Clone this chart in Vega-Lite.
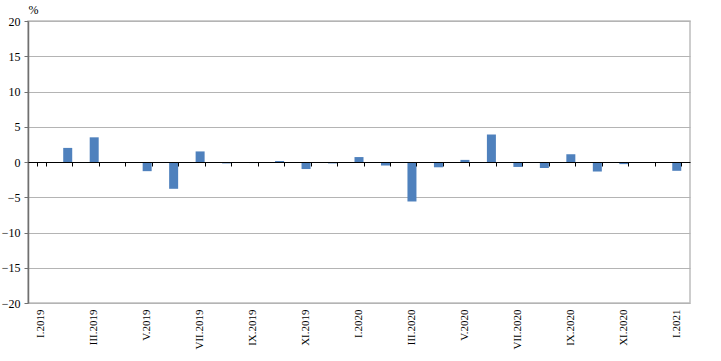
{
  "$schema": "https://vega.github.io/schema/vega-lite/v6.json",
  "autosize": {"type": "none"},
  "padding": {"left": 28, "top": 21, "right": 31, "bottom": 58},
  "width": 662,
  "height": 282,
  "background": "white",
  "config": {
    "view": {"stroke": "#bdbdbd", "strokeWidth": 1.5},
    "font": "Liberation Serif"
  },
  "data": {
    "values": [
      {"month": "I.2019", "value": 0},
      {"month": "II.2019", "value": 2.0},
      {"month": "III.2019", "value": 3.5},
      {"month": "IV.2019", "value": 0},
      {"month": "V.2019", "value": -1.3},
      {"month": "VI.2019", "value": -3.8},
      {"month": "VII.2019", "value": 1.5},
      {"month": "VIII.2019", "value": -0.2},
      {"month": "IX.2019", "value": -0.15},
      {"month": "X.2019", "value": 0.15},
      {"month": "XI.2019", "value": -1.0},
      {"month": "XII.2019", "value": -0.2},
      {"month": "I.2020", "value": 0.7},
      {"month": "II.2020", "value": -0.5},
      {"month": "III.2020", "value": -5.6},
      {"month": "IV.2020", "value": -0.75},
      {"month": "V.2020", "value": 0.3},
      {"month": "VI.2020", "value": 3.9},
      {"month": "VII.2020", "value": -0.7},
      {"month": "VIII.2020", "value": -0.85},
      {"month": "IX.2020", "value": 1.1},
      {"month": "X.2020", "value": -1.35},
      {"month": "XI.2020", "value": -0.3},
      {"month": "XII.2020", "value": 0},
      {"month": "I.2021", "value": -1.25}
    ]
  },
  "resolve": {"axis": {"x": "independent"}},
  "layer": [
    {
      "mark": {"type": "bar", "color": "#4f81bd"},
      "encoding": {
        "x": {
          "field": "month",
          "type": "nominal",
          "sort": null,
          "scale": {"paddingInner": 0.66, "paddingOuter": 0.33},
          "axis": {
            "title": null,
            "orient": "bottom",
            "values": ["I.2019", "III.2019", "V.2019", "VII.2019", "IX.2019", "XI.2019", "I.2020", "III.2020", "V.2020", "VII.2020", "IX.2020", "XI.2020", "I.2021"],
            "labelAngle": -90,
            "labelAlign": "right",
            "labelBaseline": "middle",
            "labelFont": "Liberation Serif",
            "labelFontSize": 11,
            "labelColor": "black",
            "labelPadding": 6,
            "ticks": false,
            "domain": false,
            "grid": false
          }
        },
        "y": {
          "field": "value",
          "type": "quantitative",
          "scale": {"domain": [-20, 20], "nice": false},
          "axis": {
            "title": "%",
            "titleAngle": 0,
            "titleX": 0,
            "titleY": -12,
            "titleAlign": "left",
            "titleBaseline": "middle",
            "titleFont": "Liberation Serif",
            "titleFontSize": 12,
            "titleFontWeight": "normal",
            "titleColor": "black",
            "values": [-20, -15, -10, -5, 0, 5, 10, 15, 20],
            "labelFont": "Liberation Serif",
            "labelFontSize": 12,
            "labelColor": "black",
            "labelPadding": 4,
            "labelOverlap": false,
            "domainColor": "#707070",
            "domainWidth": 1.5,
            "tickColor": "#707070",
            "tickSize": 4,
            "gridColor": "#b4b4b4",
            "gridWidth": 1.2
          }
        }
      }
    },
    {
      "mark": {"type": "bar", "opacity": 0},
      "encoding": {
        "x": {
          "field": "month",
          "type": "nominal",
          "sort": null,
          "axis": {
            "title": null,
            "orient": "bottom",
            "offset": -141,
            "labels": false,
            "grid": false,
            "tickBand": "extent",
            "tickColor": "black",
            "tickSize": 4,
            "domainColor": "black",
            "domainWidth": 1.2,
            "zindex": 1
          }
        }
      }
    }
  ]
}
